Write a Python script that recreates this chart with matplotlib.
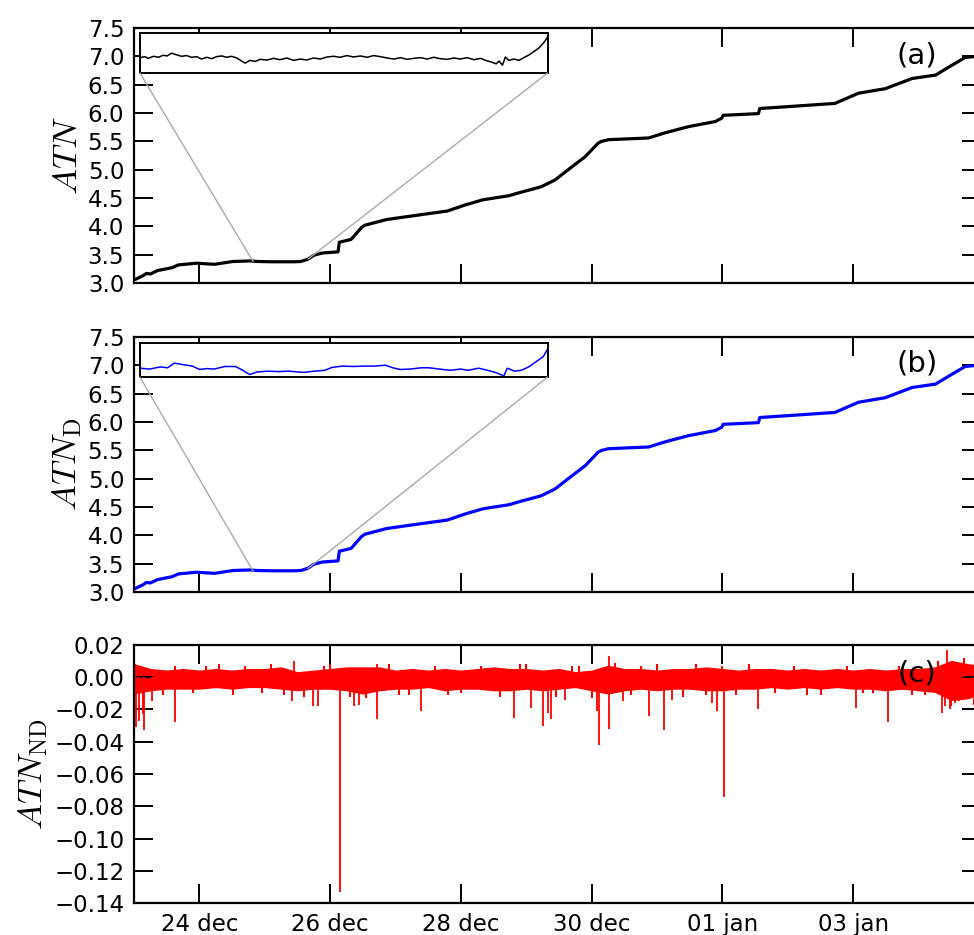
import matplotlib
matplotlib.use('Agg')
import matplotlib.pyplot as plt
import matplotlib.dates as mdates
from matplotlib.patches import ConnectionPatch
from matplotlib.ticker import MultipleLocator, FixedLocator, FuncFormatter
import pandas as pd

plt.rcParams['mathtext.fontset'] = 'cm'
plt.rcParams['font.family'] = ['DejaVu Sans']

start = pd.Timestamp('2012-12-23 00:00')
x_end = 12.96  # days after start

# main curve (days after 23 dec, ATN)
atn_t = [0.00, 0.03, 0.14, 0.19, 0.25, 0.36, 0.58, 0.68, 0.96, 1.23,
         1.51, 1.78, 1.89, 2.11, 2.44, 2.55, 2.66, 2.75, 2.88, 3.12,
         3.14, 3.32, 3.48, 3.53, 3.86, 4.41, 4.79, 5.07, 5.34, 5.73,
         5.88, 6.23, 6.44, 6.64, 6.90, 7.10, 7.15, 7.26, 7.87, 8.12,
         8.48, 8.89, 8.99, 9.01, 9.55, 9.57, 9.96, 10.72, 11.08, 11.49,
         11.90, 12.26, 12.46, 12.71, 12.88, 12.95]
atn = [3.06, 3.07, 3.13, 3.17, 3.16, 3.22, 3.27, 3.32, 3.35, 3.33,
       3.38, 3.39, 3.38, 3.375, 3.375, 3.38, 3.42, 3.49, 3.53, 3.55,
       3.72, 3.77, 3.98, 4.02, 4.12, 4.21, 4.27, 4.38, 4.47, 4.54,
       4.59, 4.70, 4.82, 5.00, 5.23, 5.47, 5.50, 5.53, 5.56, 5.65,
       5.76, 5.85, 5.91, 5.96, 5.99, 6.08, 6.11, 6.17, 6.35, 6.43,
       6.61, 6.67, 6.81, 6.98, 7.00, 7.01]
# ATN_D reads the same as ATN at this scale
atn_d = [3.06, 3.07, 3.13, 3.17, 3.16, 3.22, 3.27, 3.32, 3.35, 3.33,
         3.38, 3.39, 3.38, 3.375, 3.375, 3.38, 3.42, 3.49, 3.53, 3.55,
         3.72, 3.77, 3.98, 4.02, 4.12, 4.21, 4.27, 4.38, 4.47, 4.54,
         4.59, 4.70, 4.82, 5.00, 5.23, 5.47, 5.50, 5.53, 5.56, 5.65,
         5.76, 5.85, 5.91, 5.96, 5.99, 6.08, 6.11, 6.17, 6.35, 6.43,
         6.61, 6.67, 6.81, 6.98, 7.00, 7.01]

# zoomed inset (a)
ins_a_t = [1.820, 1.830, 1.837, 1.848, 1.858, 1.868, 1.876, 1.885, 1.896, 1.906,
           1.916, 1.927, 1.937, 1.947, 1.958, 1.968, 1.978, 1.989, 1.999, 2.009,
           2.020, 2.030, 2.037, 2.047, 2.058, 2.068, 2.082, 2.096, 2.109, 2.123,
           2.137, 2.151, 2.164, 2.178, 2.192, 2.206, 2.220, 2.233, 2.247, 2.261,
           2.275, 2.289, 2.302, 2.316, 2.330, 2.344, 2.358, 2.371, 2.385, 2.399,
           2.413, 2.426, 2.440, 2.454, 2.468, 2.481, 2.495, 2.509, 2.523, 2.533,
           2.543, 2.555, 2.561, 2.568, 2.574, 2.581, 2.592, 2.602, 2.612, 2.623,
           2.633, 2.643, 2.654, 2.661]
ins_a = [3.3808, 3.3828, 3.3794, 3.3835, 3.3815, 3.3856, 3.3842, 3.3897, 3.3863, 3.3835,
         3.3849, 3.3815, 3.3828, 3.3780, 3.3815, 3.3787, 3.3828, 3.3842, 3.3815, 3.3835,
         3.3801, 3.3739, 3.3698, 3.3753, 3.3733, 3.3774, 3.3760, 3.3794, 3.3767, 3.3801,
         3.3753, 3.3780, 3.3760, 3.3801, 3.3780, 3.3821, 3.3835, 3.3815, 3.3849, 3.3821,
         3.3842, 3.3815, 3.3849, 3.3828, 3.3801, 3.3780, 3.3808, 3.3774, 3.3794, 3.3808,
         3.3780, 3.3815, 3.3787, 3.3774, 3.3801, 3.3780, 3.3808, 3.3767, 3.3794, 3.3753,
         3.3726, 3.3685, 3.3739, 3.3657, 3.3821, 3.3753, 3.3780, 3.3753, 3.3808, 3.3863,
         3.3931, 3.3999, 3.4116, 3.4218]

# zoomed inset (b)
ins_b_t = [1.820, 1.840, 1.862, 1.877, 1.891, 1.906, 1.928, 1.943, 1.958, 1.973,
           1.995, 2.017, 2.032, 2.046, 2.061, 2.083, 2.105, 2.127, 2.157, 2.179,
           2.201, 2.216, 2.238, 2.260, 2.282, 2.304, 2.326, 2.341, 2.356, 2.378,
           2.400, 2.415, 2.437, 2.459, 2.481, 2.496, 2.518, 2.540, 2.555, 2.570,
           2.577, 2.592, 2.606, 2.621, 2.636, 2.651, 2.660]
ins_b = [3.371, 3.369, 3.374, 3.372, 3.383, 3.380, 3.376, 3.368, 3.370, 3.369,
         3.375, 3.375, 3.366, 3.356, 3.362, 3.364, 3.363, 3.364, 3.361, 3.364,
         3.366, 3.373, 3.376, 3.375, 3.376, 3.376, 3.378, 3.372, 3.368, 3.369,
         3.372, 3.372, 3.369, 3.366, 3.369, 3.366, 3.371, 3.365, 3.360, 3.353,
         3.371, 3.364, 3.366, 3.374, 3.386, 3.398, 3.416]

# ATN_ND noise band envelope
band_t = [0.00, 0.25, 0.50, 0.75, 1.00, 1.25, 1.50, 1.75, 2.00, 2.25,
          2.50, 2.75, 3.00, 3.25, 3.50, 3.75, 4.00, 4.25, 4.50, 4.75,
          5.00, 5.25, 5.50, 5.75, 6.00, 6.25, 6.50, 6.75, 7.00, 7.25,
          7.50, 7.75, 8.00, 8.25, 8.50, 8.75, 9.00, 9.25, 9.50, 9.75,
          10.00, 10.25, 10.50, 10.75, 11.00, 11.25, 11.50, 11.75, 12.00, 12.25,
          12.50, 12.75, 12.96]
band_hi = [0.008, 0.005, 0.004, 0.005, 0.004, 0.005, 0.004, 0.005, 0.005, 0.006,
           0.003, 0.004, 0.005, 0.006, 0.006, 0.006, 0.004, 0.005, 0.004, 0.005,
           0.004, 0.005, 0.006, 0.005, 0.005, 0.004, 0.005, 0.003, 0.004, 0.007,
           0.005, 0.005, 0.004, 0.005, 0.005, 0.006, 0.005, 0.004, 0.005, 0.005,
           0.004, 0.005, 0.004, 0.005, 0.004, 0.005, 0.004, 0.005, 0.005, 0.006,
           0.010, 0.008, 0.007]
band_lo = [-0.010, -0.008, -0.007, -0.007, -0.007, -0.006, -0.007, -0.006, -0.006, -0.007,
           -0.008, -0.007, -0.007, -0.008, -0.010, -0.008, -0.007, -0.007, -0.006, -0.008,
           -0.007, -0.007, -0.008, -0.008, -0.007, -0.008, -0.007, -0.006, -0.008, -0.010,
           -0.008, -0.007, -0.008, -0.007, -0.007, -0.008, -0.008, -0.007, -0.007, -0.006,
           -0.007, -0.006, -0.007, -0.006, -0.007, -0.007, -0.008, -0.007, -0.008, -0.009,
           -0.014, -0.013, -0.010]

# individual spikes
spike_t = [0.03, 0.08, 0.13, 0.16, 0.28, 0.62, 2.42, 2.73, 2.81, 3.15,
           3.37, 3.44, 3.72, 4.39, 5.81, 6.07, 6.26, 6.33, 6.38, 6.59,
           7.08, 7.11, 7.26, 7.48, 7.88, 8.10, 8.23, 8.84, 8.91, 9.02,
           9.54, 11.04, 11.53, 12.35, 12.40, 12.48, 12.55, 12.62,
           0.02, 2.45, 3.72, 7.26, 9.00, 12.43]
spike_v = [-0.031, -0.027, -0.023, -0.033, -0.015, -0.028, -0.015, -0.018, -0.018, -0.133,
           -0.018, -0.017, -0.026, -0.021, -0.025, -0.019, -0.030, -0.022, -0.026, -0.014,
           -0.021, -0.042, -0.032, -0.015, -0.024, -0.033, -0.014, -0.016, -0.021, -0.074,
           -0.020, -0.019, -0.028, -0.022, -0.018, -0.020, -0.016, -0.015,
           0.008, 0.010, 0.008, 0.013, 0.007, 0.017]

# smaller excursions that roughen the band edges
small_t = [0.45, 0.62, 0.90, 1.10, 1.30, 1.52, 1.70, 1.95, 2.10, 2.30, 2.60, 2.90,
           3.00, 3.30, 3.55, 3.90, 4.05, 4.20, 4.60, 4.80, 5.00, 5.30, 5.60, 5.90,
           6.00, 6.45, 6.70, 6.80, 7.00, 7.35, 7.60, 7.75, 8.00, 8.40, 8.60, 8.75,
           9.20, 9.40, 9.80, 10.10, 10.30, 10.50, 10.90, 11.15, 11.30, 11.70, 11.90,
           12.10, 12.30, 12.50, 12.70, 12.85]
small_v = [-0.011, 0.007, -0.010, 0.007, 0.008, -0.011, 0.007, -0.010, 0.008, -0.011,
           -0.012, 0.007, 0.008, -0.012, -0.013, 0.008, -0.011, -0.011, 0.007, -0.011,
           -0.010, 0.007, -0.012, 0.008, 0.008, -0.012, 0.007, 0.007, -0.013, 0.009,
           -0.011, 0.007, 0.008, -0.012, 0.008, -0.011, -0.011, 0.008, -0.010, 0.007,
           -0.011, -0.011, 0.007, -0.010, -0.010, 0.007, -0.011, -0.011, 0.010, -0.018,
           0.012, -0.017]

tick_dates = ['2012-12-24', '2012-12-26', '2012-12-28', '2012-12-30',
              '2013-01-01', '2013-01-03']


def to_dates(days):
    return (start + pd.to_timedelta(days, unit='D')).to_numpy()


fig = plt.figure(figsize=(9.74, 9.35), dpi=100)
left, width = 0.1376, 0.870
ax_a = fig.add_axes([left, 0.6973, width, 0.2727])
ax_b = fig.add_axes([left, 0.3668, width, 0.2727])
ax_c = fig.add_axes([left, 0.0342, width, 0.2760])

ax_a.plot(to_dates(atn_t), atn, color='black', lw=2.3)
ax_b.plot(to_dates(atn_t), atn_d, color='blue', lw=2.3)

ax_c.fill_between(to_dates(band_t), band_lo, band_hi, color='red', lw=1.0,
                  edgecolor='red')
ax_c.vlines(to_dates(small_t), 0, small_v, color='red', lw=1.5)
ax_c.vlines(to_dates(spike_t), 0, spike_v, color='red', lw=1.3)

xticks = mdates.date2num(pd.to_datetime(tick_dates).to_pydatetime())
for ax in (ax_a, ax_b, ax_c):
    ax.set_xlim(to_dates([0.0])[0], to_dates([x_end])[0])
    ax.xaxis.set_major_locator(FixedLocator(xticks))
    ax.tick_params(direction='in', length=14, width=1.4, top=True, right=True,
                   labelsize=16.5, pad=7)
    for sp in ax.spines.values():
        sp.set_linewidth(1.6)

ax_a.set_xticklabels([])
ax_b.set_xticklabels([])
ax_c.xaxis.set_major_formatter(
    FuncFormatter(lambda x, pos: mdates.num2date(x).strftime('%d %b').lower()))

for ax in (ax_a, ax_b):
    ax.set_ylim(3.0, 7.5)
    ax.yaxis.set_major_locator(MultipleLocator(0.5))
    ax.yaxis.set_major_formatter(FuncFormatter(lambda v, pos: '%.1f' % v))
ax_c.set_ylim(-0.14, 0.02)
ax_c.yaxis.set_major_locator(MultipleLocator(0.02))
ax_c.yaxis.set_major_formatter(
    FuncFormatter(lambda v, pos: ('%.2f' % v).replace('-', '\u2212') if abs(v) > 1e-9 else '0.00'))

ax_a.set_ylabel(r'$ATN$', fontsize=25, labelpad=3)
ax_b.set_ylabel(r'$ATN_{\rm D}$', fontsize=25, labelpad=3)
ax_c.set_ylabel(r'$ATN_{\rm ND}$', fontsize=25, labelpad=3)

for ax, lab, ypos in ((ax_a, '(a)', 0.894), (ax_b, '(b)', 0.898), (ax_c, '(c)', 0.89)):
    ax.text(0.924, ypos, lab, transform=ax.transAxes, fontsize=21,
            ha='center', va='center', zorder=10)

# insets with connector lines
for ax, rect, t, v, col, lw in ((ax_a, [0.007, 0.8235, 0.481, 0.157], ins_a_t, ins_a, 'black', 1.1),
                                (ax_b, [0.007, 0.843, 0.481, 0.133], ins_b_t, ins_b, 'blue', 1.1)):
    ins = ax.inset_axes(rect)
    ins.plot(to_dates(t), v, color=col, lw=lw)
    ins.set_xlim(to_dates([t[0]])[0], to_dates([t[-1]])[0])
    ins.set_ylim(3.35, 3.43)
    ins.set_xticks([])
    ins.set_yticks([])
    for sp in ins.spines.values():
        sp.set_linewidth(1.4)
    for corner, tt, vv in (((0, 0), t[0], v[0]), ((1, 0), t[-1], v[-1])):
        con = ConnectionPatch(xyA=corner, coordsA=ins.transAxes,
                              xyB=(mdates.date2num(to_dates([tt])[0]), vv),
                              coordsB=ax.transData, color='#aaaaaa', lw=1.0)
        fig.add_artist(con)

fig.savefig('out.png', dpi=100)
